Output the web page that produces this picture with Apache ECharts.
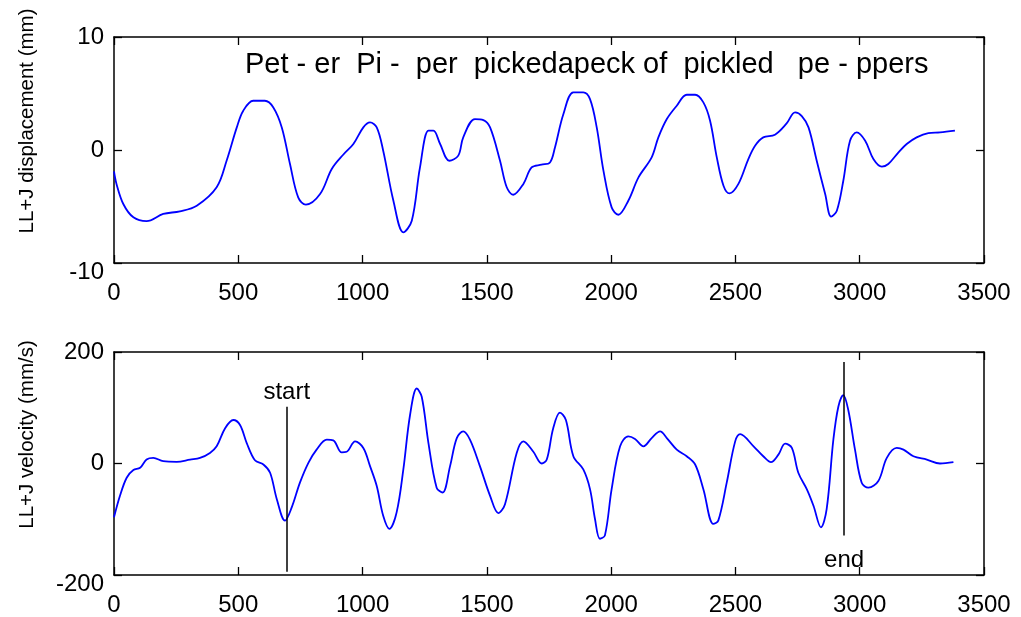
<!DOCTYPE html>
<html><head><meta charset="utf-8">
<script src="https://cdn.jsdelivr.net/npm/echarts@6/dist/echarts.min.js"></script>
<style>html,body{margin:0;padding:0;background:#fff}#c{width:1021px;height:617px}</style>
</head><body><div id="c"></div>
<script>
const xTicks = [0, 500, 1000, 1500, 2000, 2500, 3000, 3500];
const dispTicks = [-10, 0, 10];
const velTicks = [-200, 0, 200];

const dispX = [0,10,38,78,131,198,265,333,413,453,494,520,560,607,641,675,708,741,772,829,876,922,963,1003,1030,1057,1083,1124,1164,1198,1231,1265,1285,1312,1349,1385,1405,1452,1486,1513,1553,1580,1606,1647,1680,1720,1754,1774,1808,1848,1888,1915,1942,1969,2002,2029,2069,2110,2163,2190,2224,2264,2304,2338,2371,2398,2425,2452,2476,2512,2552,2579,2612,2659,2706,2740,2767,2794,2827,2861,2885,2908,2934,2961,2988,3022,3055,3089,3115,3156,3189,3229,3276,3323,3383];
const dispY = [-1.9,-3.0,-4.8,-5.96,-6.3,-5.66,-5.43,-4.93,-3.3,-0.95,2.0,3.48,4.36,4.36,3.77,2.0,-1.24,-4.19,-4.84,-3.9,-1.68,-0.42,0.53,2.0,2.44,2.0,-0.06,-4.49,-7.29,-6.26,-1.54,1.71,1.71,0.53,-0.95,-0.5,1.12,2.74,2.65,2.0,-0.95,-3.3,-3.96,-3.0,-1.54,-1.3,-1.1,0.23,3.19,5.1,5.1,4.5,2.0,-1.83,-5.08,-5.73,-4.49,-2.42,-0.65,1.12,2.74,3.92,4.89,4.89,4.21,2.59,-0.65,-3.16,-3.84,-3.0,-0.8,0.38,1.12,1.35,2.35,3.33,3.0,2.0,-0.95,-3.9,-5.9,-5.37,-2.72,0.82,1.56,0.82,-0.8,-1.48,-1.24,-0.21,0.53,1.12,1.5,1.56,1.71];

const velX = [0,24,51,78,105,131,158,198,252,306,346,386,413,447,480,507,534,567,601,628,655,688,715,748,782,815,856,882,916,936,970,1003,1030,1057,1083,1108,1137,1164,1191,1218,1238,1265,1298,1322,1352,1379,1405,1432,1472,1513,1546,1573,1620,1647,1687,1721,1741,1767,1794,1818,1848,1888,1915,1935,1955,1975,2002,2036,2069,2096,2130,2163,2197,2224,2264,2304,2338,2371,2411,2431,2465,2499,2519,2573,2612,2643,2673,2700,2727,2753,2787,2814,2844,2867,2894,2914,2934,2954,2981,3008,3035,3075,3109,3149,3176,3216,3270,3323,3377];
const velY = [-96.5,-58,-25.5,-11.8,-7.7,7.1,10.1,4.1,3,7,10,19,30.8,63.4,78,69,36.7,5.9,-1.8,-16.6,-64,-102.5,-78.8,-34.4,1.2,24.9,42.7,41.5,20,21,39.7,27.9,-4.7,-40.3,-93.6,-117.3,-87.7,-10.7,87,134.5,119.7,36.7,-43.3,-52,-4.7,45.6,57.5,42.7,-4.7,-58,-88.9,-72.9,19,39.7,21,0,7,63.4,91.3,78,13,-10.7,-46,-99.5,-135,-129,-46,30.8,48.5,44,30.8,45.6,57.5,45.6,24.9,13,-1.8,-46,-108.4,-102.5,-34.4,39.7,52.7,30.8,13,2.4,16,35.6,27.9,-16.6,-46,-75.8,-114.4,-81.8,42.7,101.9,122.7,96,24.9,-34.4,-43.3,-31.4,10.1,27.9,24.9,13,7,0,2.4];

const phraseText = 'Pet - er  Pi -  per  pickedapeck of  pickled   pe - ppers';
const startMark = { label: 'start', x: 695, y1: 102, y2: -194 };
const endMark = { label: 'end', x: 2937, y1: -129, y2: 182 };

const FONT = 'Liberation Sans, Arial, sans-serif';
const zip = (a, b) => a.map((v, i) => [v, b[i]]);

function xAx(gridIndex, show) {
  return {
    type: 'value', gridIndex, min: xTicks[0], max: xTicks[xTicks.length - 1],
    interval: xTicks[1] - xTicks[0], position: show ? 'bottom' : 'top',
    axisLine: { show: true, onZero: false, lineStyle: { color: '#000', width: 1.5 } },
    axisTick: { show: true, inside: true, length: 8, lineStyle: { color: '#000', width: 1.3 } },
    axisLabel: { show: show, color: '#000', fontSize: 24, fontFamily: FONT, margin: 18, formatter: v => String(v) },
    splitLine: { show: false }
  };
}
function yAx(gridIndex, ticks, name, show) {
  const lo = ticks[0];
  return {
    type: 'value', gridIndex, min: ticks[0], max: ticks[ticks.length - 1],
    interval: ticks[1] - ticks[0], position: show ? 'left' : 'right',
    name: show ? name : '', nameLocation: 'middle', nameGap: 76,
    nameTextStyle: { color: '#000', fontSize: 20.5, fontFamily: FONT, padding: [0, 0, 0, 58] },
    axisLine: { show: true, onZero: false, lineStyle: { color: '#000', width: 1.5 } },
    axisTick: { show: true, inside: true, length: 8, lineStyle: { color: '#000', width: 1.3 } },
    axisLabel: {
      show: show, color: '#000', fontSize: 24, fontFamily: FONT, margin: 10,
      formatter: v => (v === lo ? '{low|' + v + '}' : String(v)),
      rich: { low: { padding: [18, 0, 0, 0], color: '#000', fontSize: 24, fontFamily: FONT } }
    },
    splitLine: { show: false }
  };
}
function mark(m, lbl) {
  return {
    symbol: 'none', silent: true, animation: false,
    lineStyle: { color: '#000', width: 1.5, type: 'solid' },
    label: { show: true, position: 'start', formatter: m.label, color: '#000', fontSize: 24, fontFamily: FONT, distance: lbl },
    data: [[{ coord: [m.x, m.y1] }, { coord: [m.x, m.y2] }]]
  };
}

const chart = echarts.init(document.getElementById('c'), null, { renderer: 'canvas' });
chart.setOption({
  animation: false,
  backgroundColor: '#fff',
  title: {
    text: phraseText, left: 240, top: 45,
    textStyle: { color: '#000', fontSize: 29, fontWeight: 'normal', fontFamily: FONT }
  },
  grid: [
    { left: 114, right: 37, top: 37, height: 226 },
    { left: 114, right: 37, top: 352, height: 226 }
  ],
  xAxis: [xAx(0, true), xAx(0, false), xAx(1, true), xAx(1, false)],
  yAxis: [
    yAx(0, dispTicks, 'LL+J displacement (mm)', true), yAx(0, dispTicks, '', false),
    yAx(1, velTicks, 'LL+J velocity (mm/s)', true), yAx(1, velTicks, '', false)
  ],
  series: [
    {
      type: 'line', xAxisIndex: 0, yAxisIndex: 0, data: zip(dispX, dispY),
      showSymbol: false, smooth: 0.35, lineStyle: { color: '#0000ff', width: 1.8 }
    },
    {
      type: 'line', xAxisIndex: 2, yAxisIndex: 2, data: zip(velX, velY),
      showSymbol: false, smooth: 0.35, lineStyle: { color: '#0000ff', width: 1.8 },
      markLine: mark(startMark, 2)
    },
    {
      type: 'line', xAxisIndex: 2, yAxisIndex: 2, data: [],
      markLine: mark(endMark, 13)
    }
  ]
});
</script></body></html>
